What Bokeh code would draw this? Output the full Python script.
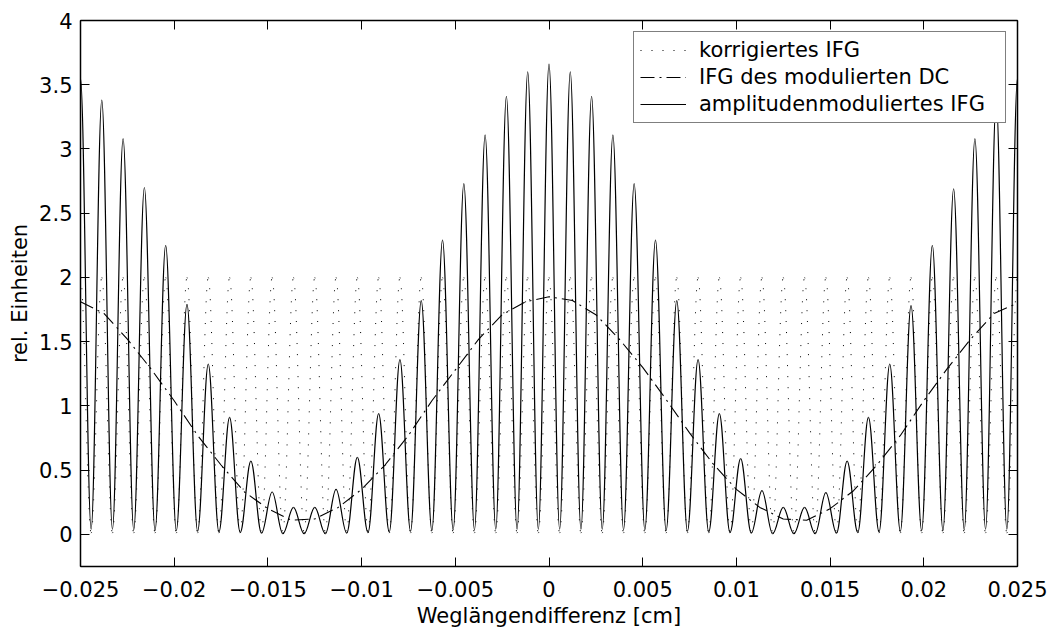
from bokeh.plotting import figure
from bokeh.models import (Range1d, LinearAxis, FixedTicker, Legend, LegendItem,
                          ColumnDataSource)
from bokeh.embed import file_html
from bokeh.resources import INLINE

# ---------------- data ----------------
# positions of the interferogram maxima [cm]
peak_x = [-0.025, -0.023864, -0.022727, -0.021591, -0.020455, -0.019318, -0.018182,
          -0.017045, -0.015909, -0.014773, -0.013636, -0.0125, -0.011364, -0.010227,
          -0.009091, -0.007955, -0.006818, -0.005682, -0.004545, -0.003409, -0.002273,
          -0.001136, 0.0, 0.001136, 0.002273, 0.003409, 0.004545, 0.005682, 0.006818,
          0.007955, 0.009091, 0.010227, 0.011364, 0.0125, 0.013636, 0.014773, 0.015909,
          0.017045, 0.018182, 0.019318, 0.020455, 0.021591, 0.022727, 0.023864, 0.025]

# amplitudenmoduliertes IFG: maxima and minima
solid_peak = [3.55, 3.38, 3.08, 2.70, 2.25, 1.79, 1.325, 0.91, 0.57, 0.33, 0.21, 0.21,
              0.35, 0.60, 0.94, 1.36, 1.82, 2.29, 2.73, 3.11, 3.41, 3.60, 3.66,
              3.60, 3.41, 3.11, 2.73, 2.29, 1.82, 1.36, 0.94, 0.59, 0.34, 0.21, 0.21,
              0.325, 0.57, 0.91, 1.325, 1.78, 2.25, 2.69, 3.08, 3.38, 3.55]
solid_trough = [0.04, 0.04, 0.035, 0.03, 0.03, 0.025, 0.02, 0.015, 0.01, 0.005, 0.005,
                0.005, 0.01, 0.015, 0.02, 0.025, 0.03, 0.035, 0.035, 0.04, 0.04, 0.04,
                0.04, 0.04, 0.04, 0.035, 0.035, 0.03, 0.025, 0.02, 0.015, 0.01, 0.005,
                0.005, 0.005, 0.01, 0.015, 0.02, 0.025, 0.03, 0.03, 0.035, 0.04, 0.04]

# korrigiertes IFG: maxima and minima
dotted_peak = [2.0, 2.0, 2.0, 2.0, 2.0, 2.0, 2.0, 2.0, 2.0, 2.0, 2.0, 2.0, 2.0, 2.0, 2.0,
               2.0, 2.0, 2.0, 2.0, 2.0, 2.0, 2.0, 2.0, 2.0, 2.0, 2.0, 2.0, 2.0, 2.0, 2.0,
               2.0, 2.0, 2.0, 2.0, 2.0, 2.0, 2.0, 2.0, 2.0, 2.0, 2.0, 2.0, 2.0, 2.0, 2.0]
dotted_trough = [0.01, 0.01, 0.01, 0.01, 0.01, 0.01, 0.01, 0.01, 0.01, 0.01, 0.01,
                 0.01, 0.01, 0.01, 0.01, 0.01, 0.01, 0.01, 0.01, 0.01, 0.01, 0.01,
                 0.01, 0.01, 0.01, 0.01, 0.01, 0.01, 0.01, 0.01, 0.01, 0.01, 0.01,
                 0.01, 0.01, 0.01, 0.01, 0.01, 0.01, 0.01, 0.01, 0.01, 0.01, 0.01]

# IFG des modulierten DC
dc_x = [-0.025, -0.02375, -0.0225, -0.02125, -0.02, -0.01875, -0.0175, -0.01625, -0.015,
        -0.01375, -0.0125, -0.01125, -0.01, -0.00875, -0.0075, -0.00625, -0.005,
        -0.00375, -0.0025, -0.00125, 0.0, 0.00125, 0.0025, 0.00375, 0.005, 0.00625,
        0.0075, 0.00875, 0.01, 0.01125, 0.0125, 0.01375, 0.015, 0.01625, 0.0175,
        0.01875, 0.02, 0.02125, 0.0225, 0.02375, 0.025]
dc_y = [1.81, 1.72, 1.52, 1.29, 1.04, 0.77, 0.54, 0.33, 0.20, 0.11, 0.12, 0.21, 0.35,
        0.54, 0.77, 1.04, 1.28, 1.52, 1.71, 1.81, 1.85, 1.82, 1.71, 1.52, 1.30, 1.05,
        0.79, 0.55, 0.35, 0.21, 0.12, 0.11, 0.20, 0.34, 0.54, 0.77, 1.04, 1.29, 1.52,
        1.72, 1.80]

x_ticks = [-0.025, -0.02, -0.015, -0.01, -0.005, 0.0, 0.005, 0.01, 0.015, 0.02, 0.025]
x_tick_labels = ["\u22120.025", "\u22120.02", "\u22120.015", "\u22120.01", "\u22120.005",
                 "0", "0.005", "0.01", "0.015", "0.02", "0.025"]
y_ticks = [0.0, 0.5, 1.0, 1.5, 2.0, 2.5, 3.0, 3.5, 4.0]
y_tick_labels = ["0", "0.5", "1", "1.5", "2", "2.5", "3", "3.5", "4"]

series_labels = ["korrigiertes IFG", "IFG des modulierten DC", "amplitudenmoduliertes IFG"]
x_title = "Wegl\u00e4ngendifferenz [cm]"
y_title = "rel. Einheiten"

FONT = "DejaVu Sans"
FS = "21px"


def wave_source(px, peaks, troughs):
    """Smooth half-cosine-like Bezier segments between successive extremes."""
    xs, ys = [], []
    for i in range(len(px)):
        xs.append(px[i]); ys.append(peaks[i])
        if i < len(troughs):
            xs.append((px[i] + px[i + 1]) / 2.0); ys.append(troughs[i])
    k = 0.3634
    d = dict(x0=[], y0=[], x1=[], y1=[], cx0=[], cy0=[], cx1=[], cy1=[])
    for i in range(len(xs) - 1):
        a, b = xs[i], xs[i + 1]
        w = b - a
        d["x0"].append(a); d["y0"].append(ys[i])
        d["x1"].append(b); d["y1"].append(ys[i + 1])
        d["cx0"].append(a + k * w); d["cy0"].append(ys[i])
        d["cx1"].append(b - k * w); d["cy1"].append(ys[i + 1])
    return ColumnDataSource(d)


p = figure(width=1053, height=631, output_backend="svg", toolbar_location=None,
           x_range=Range1d(-0.025, 0.025), y_range=Range1d(-0.25, 4),
           min_border_left=80, min_border_right=36, min_border_top=20,
           min_border_bottom=65, background_fill_color="white",
           border_fill_color="white")
p.outline_line_color = "black"
p.outline_line_width = 1
p.xgrid.visible = False
p.ygrid.visible = False

bz = dict(x0="x0", y0="y0", x1="x1", y1="y1", cx0="cx0", cy0="cy0", cx1="cx1", cy1="cy1")

DOT = "1 10"
DASHDOT = "14 5 2 5"
DOT_W = 1.0
SOL_W = 1.2

p.bezier(source=wave_source(peak_x, dotted_peak, dotted_trough), line_color="black",
         line_width=DOT_W, line_dash=DOT, **bz)
r_dc = p.line(dc_x, dc_y, line_color="black", line_width=1.1, line_dash=DASHDOT)
p.bezier(source=wave_source(peak_x, solid_peak, solid_trough), line_color="black",
         line_width=SOL_W, **bz)

# legend sample proxies (their points lie outside the visible ranges)
proxy_x = [1.0, 1.1]
proxy_y = [10.0, 10.0]
r_dot_leg = p.line(proxy_x, proxy_y, line_color="black", line_width=DOT_W, line_dash=DOT)
r_sol_leg = p.line(proxy_x, proxy_y, line_color="black", line_width=SOL_W)


def style_axis(ax, labels=True):
    ax.axis_line_color = "black"
    ax.axis_line_width = 1.5
    ax.major_tick_line_color = "black"
    ax.major_tick_in = 9
    ax.major_tick_out = 0
    ax.minor_tick_line_color = None
    ax.major_label_text_font = FONT
    if labels:
        ax.major_label_text_font_size = FS
        ax.major_label_text_color = "black"
    else:
        ax.major_label_text_font_size = "1px"
        ax.major_label_text_color = None
        ax.major_label_standoff = 0


xax = p.xaxis[0]
yax = p.yaxis[0]
xax.ticker = FixedTicker(ticks=x_ticks)
yax.ticker = FixedTicker(ticks=y_ticks)
xax.major_label_overrides = {t: s for t, s in zip(x_ticks, x_tick_labels)}
yax.major_label_overrides = {t: s for t, s in zip(y_ticks, y_tick_labels)}
style_axis(xax)
style_axis(yax)
xax.major_label_standoff = 14
yax.major_label_standoff = 8
xax.axis_label = x_title
yax.axis_label = y_title
for ax in (xax, yax):
    ax.axis_label_text_font = FONT
    ax.axis_label_text_font_size = FS
    ax.axis_label_text_font_style = "normal"
    ax.axis_label_text_color = "black"
xax.axis_label_standoff = 4
yax.axis_label_standoff = 4

top = LinearAxis(ticker=FixedTicker(ticks=x_ticks))
right = LinearAxis(ticker=FixedTicker(ticks=y_ticks))
style_axis(top, labels=False)
style_axis(right, labels=False)
p.add_layout(top, "above")
p.add_layout(right, "right")

legend = Legend(items=[LegendItem(label=series_labels[0], renderers=[r_dot_leg]),
                       LegendItem(label=series_labels[1], renderers=[r_dc]),
                       LegendItem(label=series_labels[2], renderers=[r_sol_leg])],
                location=(553, 443))
legend.label_text_font = FONT
legend.label_text_font_size = FS
legend.label_text_color = "black"
legend.border_line_color = "black"
legend.border_line_width = 1
legend.background_fill_color = "white"
legend.background_fill_alpha = 1.0
legend.glyph_width = 46
legend.glyph_height = 22
legend.label_height = 22
legend.label_width = 300
legend.label_standoff = 13
legend.padding = 6
legend.spacing = 3
legend.margin = 0
p.add_layout(legend)

open("out.html", "w").write(file_html(p, INLINE))
